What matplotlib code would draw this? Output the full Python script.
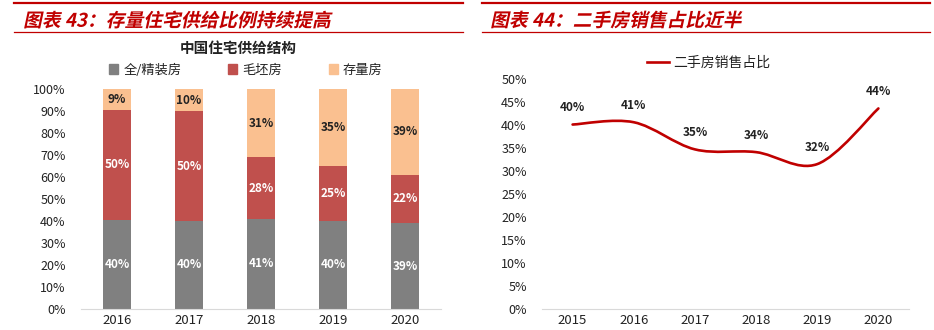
import numpy as np
import matplotlib
matplotlib.use("Agg")
import matplotlib.pyplot as plt
from matplotlib.patches import Patch, PathPatch
from matplotlib.lines import Line2D
from matplotlib.path import Path
from matplotlib.textpath import TextPath
from matplotlib.font_manager import FontProperties
from matplotlib.transforms import Affine2D

plt.rcParams["font.family"] = ["Noto Sans CJK SC", "DejaVu Sans"]

# ---- data ----
years_bar = ["2016", "2017", "2018", "2019", "2020"]
finished = [40.4, 40.0, 41.0, 40.0, 39.0]   # 全/精装房
rough = [50.2, 50.0, 28.0, 25.0, 22.0]      # 毛坯房
existing = [9.4, 10.0, 31.0, 35.0, 39.0]    # 存量房
bar_names = ["全/精装房", "毛坯房", "存量房"]

years_line = ["2015", "2016", "2017", "2018", "2019", "2020"]
second_hand = [40.1, 40.6, 34.7, 34.1, 31.5, 43.6]   # 二手房销售占比

RED = "#C00000"
GRAY = "#808080"
BRICK = "#C0504D"
PEACH = "#FAC090"
AXIS = "#D9D9D9"
TXT = "#222222"

W, H, DPI = 934, 330, 100
fig = plt.figure(figsize=(W / DPI, H / DPI), dpi=DPI)


def header(x0, x1, tx, text):
    fig.add_artist(Line2D([x0 / W, x1 / W], [1 - 3 / H] * 2, color=RED, lw=1.6))
    fig.add_artist(Line2D([x0 / W, x1 / W], [1 - 32 / H] * 2, color=RED, lw=0.9))
    # bold italic look: slanted text path
    tp = TextPath((0, 0), text, size=13.5,
                  prop=FontProperties(family="Noto Sans CJK SC", weight="bold"))
    ext = tp.get_extents()
    tr = (Affine2D().translate(-ext.x0, -(ext.y0 + ext.y1) / 2).skew_deg(12, 0)
          .scale(1 / 72).translate(tx / DPI, (H - 19.5) / DPI) + fig.dpi_scale_trans)
    fig.add_artist(PathPatch(tp, transform=tr, facecolor=RED, edgecolor="none"))


def style_axis(ax):
    ax.tick_params(axis="both", length=0, labelsize=9, colors=TXT)
    ax.tick_params(axis="y", pad=11)
    ax.tick_params(axis="x", pad=3.5, labelsize=9.5)
    for s in ["top", "right", "left"]:
        ax.spines[s].set_visible(False)
    ax.spines["bottom"].set_color(AXIS)


header(14, 463, 26, "图表 43：存量住宅供给比例持续提高")
header(482, 930, 493, "图表 44：二手房销售占比近半")

# ---- left: stacked bars ----
ax1 = fig.add_axes([81 / W, 21 / H, 360 / W, 220 / H])
x = np.arange(len(years_bar))
bot2 = np.array(finished)
bot3 = bot2 + np.array(rough)
b1 = ax1.bar(x, finished, width=0.4, color=GRAY)
b2 = ax1.bar(x, rough, width=0.4, bottom=bot2, color=BRICK)
b3 = ax1.bar(x, existing, width=0.4, bottom=bot3, color=PEACH)
for bars, vals, col in [(b1, finished, "white"), (b2, rough, "white"), (b3, existing, TXT)]:
    ax1.bar_label(bars, labels=[f"{v:.0f}%" for v in vals], label_type="center",
                  color=col, fontsize=8.5, fontweight="bold")
ax1.set_ylim(0, 100)
ax1.set_xlim(-0.5, len(years_bar) - 0.5)
ax1.set_yticks(np.arange(0, 101, 10))
ax1.set_yticklabels([f"{v}%" for v in range(0, 101, 10)])
ax1.set_xticks(x)
ax1.set_xticklabels(years_bar)
style_axis(ax1)

fig.text(238 / W, 1 - 48 / H, "中国住宅供给结构", ha="center", va="center",
         fontsize=10.5, fontweight="bold", color=TXT)
handles = [Patch(color=c) for c in [GRAY, BRICK, PEACH]]
fig.legend(handles, bar_names, loc="center", bbox_to_anchor=(246 / W, 1 - 70 / H),
           ncol=3, frameon=False, fontsize=9.5, handlelength=0.7, handleheight=0.7,
           handletextpad=0.4, columnspacing=3.5, labelcolor=TXT)

# ---- right: smoothed line ----
ax2 = fig.add_axes([542 / W, 21 / H, 367 / W, 230 / H])
xl = np.arange(len(years_line), dtype=float)
yl = np.array(second_hand)
# Excel-style smoothing: cubic Bezier with neighbour-based control points
pts = np.column_stack([xl, yl])
ext_pts = np.vstack([pts[0], pts, pts[-1]])
verts = [pts[0]]
codes = [Path.MOVETO]
for i in range(len(pts) - 1):
    p0, p1, p2, p3 = ext_pts[i], ext_pts[i + 1], ext_pts[i + 2], ext_pts[i + 3]
    verts += [p1 + (p2 - p0) / 6, p2 - (p3 - p1) / 6, p2]
    codes += [Path.CURVE4] * 3
ax2.add_patch(PathPatch(Path(verts, codes), facecolor="none", edgecolor=RED,
                        lw=1.9, capstyle="round"))
for xi, yi in zip(xl, yl):
    ax2.annotate(f"{yi:.0f}%", (xi, yi), xytext=(0, 12), textcoords="offset points",
                 ha="center", va="center", fontsize=8.5, fontweight="bold", color=TXT)
ax2.set_ylim(0, 50)
ax2.set_xlim(-0.5, len(years_line) - 0.5)
ax2.set_yticks(np.arange(0, 51, 5))
ax2.set_yticklabels([f"{v}%" for v in range(0, 51, 5)])
ax2.set_xticks(xl)
ax2.set_xticklabels(years_line)
style_axis(ax2)

fig.legend([Line2D([], [], color=RED, lw=1.9)], ["二手房销售占比"], loc="center",
           bbox_to_anchor=(709 / W, 1 - 63 / H), frameon=False, fontsize=10,
           handlelength=1.6, handletextpad=0.3, labelcolor=TXT)

fig.savefig("out.png", dpi=DPI)
